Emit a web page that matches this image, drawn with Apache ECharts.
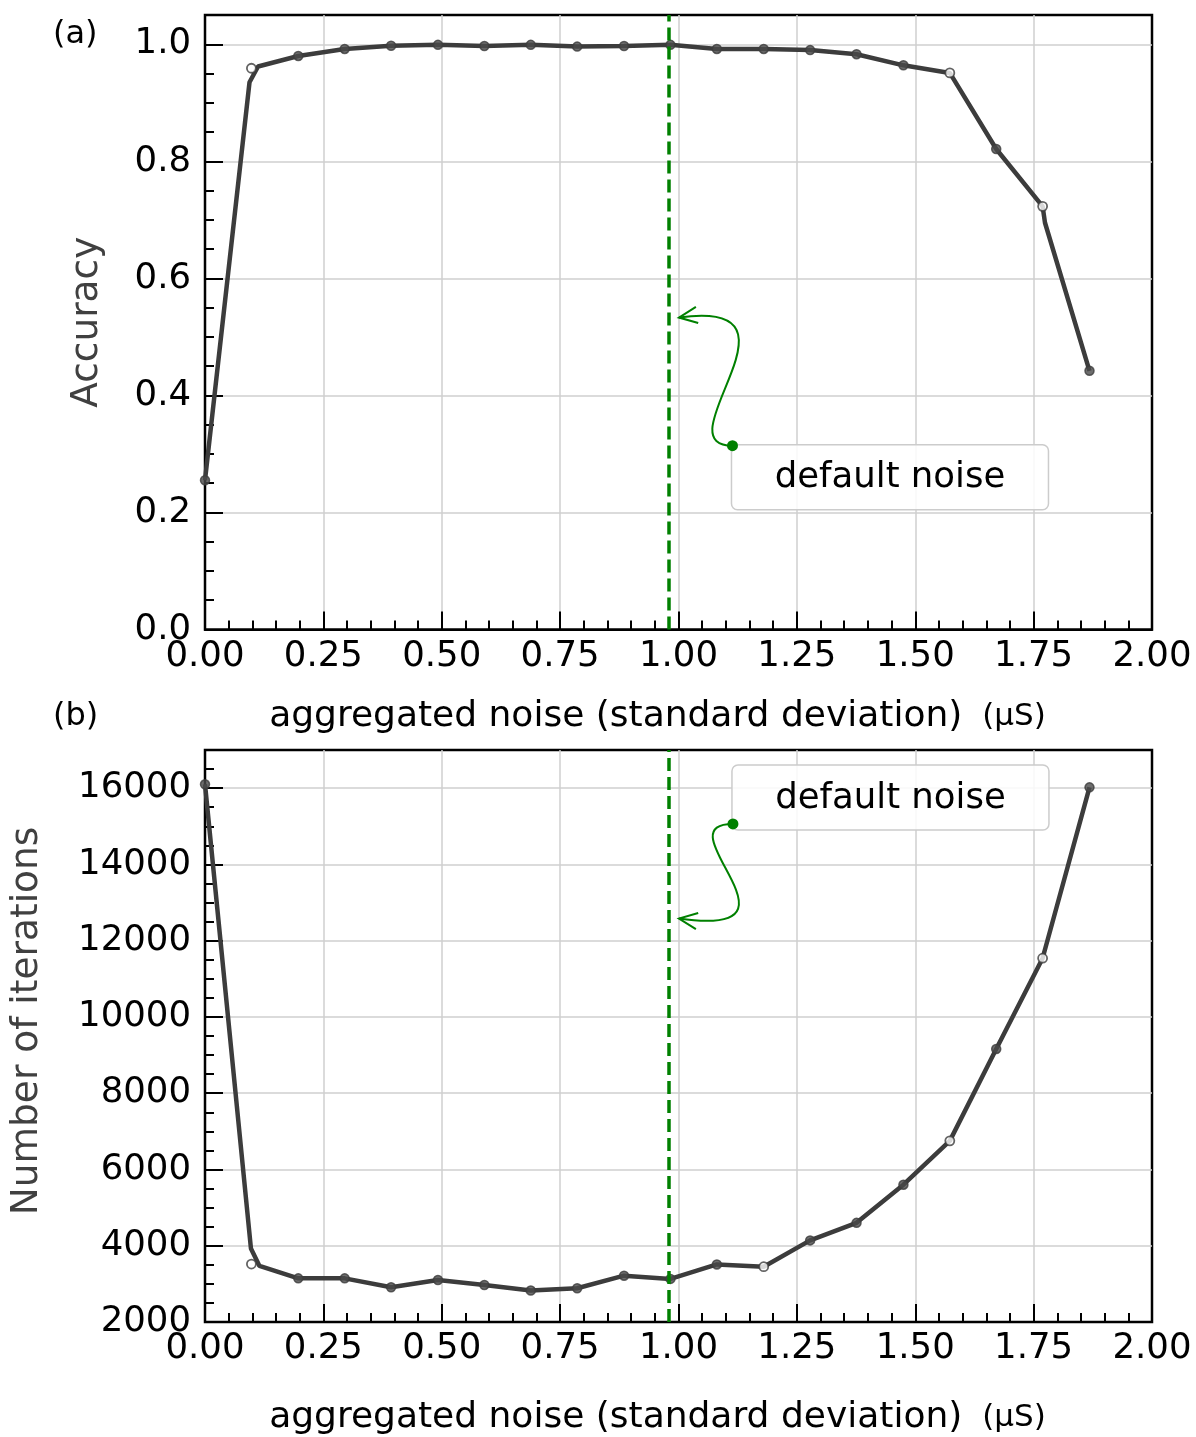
<!DOCTYPE html>
<html><head><meta charset="utf-8">
<script src="https://cdn.jsdelivr.net/npm/echarts@6/dist/echarts.min.js"></script>
<style>html,body{margin:0;padding:0;background:#fff}#main{width:1196px;height:1437px}</style>
</head><body><div id="main"></div>
<script>
// ---------------- data ----------------
const noise = [0, 0.098, 0.197, 0.295, 0.393, 0.492, 0.590, 0.688, 0.786, 0.885, 0.983, 1.081, 1.180, 1.278, 1.376, 1.475, 1.573, 1.671, 1.769, 1.868];
const accuracy = [0.255, 0.959, 0.980, 0.992, 0.9975, 0.999, 0.997, 0.999, 0.996, 0.997, 0.999, 0.992, 0.992, 0.990, 0.983, 0.964, 0.951, 0.821, 0.723, 0.442];
const iterations = [16100, 3520, 3145, 3145, 2910, 3100, 2970, 2825, 2885, 3215, 3130, 3510, 3450, 4140, 4600, 5600, 6750, 9160, 11540, 16020];
const openAccuracy = [1, 16, 18];
const openIterations = [1, 12, 16, 18];
// line vertices (the drawn curve has small kinks next to some markers)
const accuracyLineX = [0, 0.094, 0.112, 0.197, 0.295, 0.393, 0.492, 0.590, 0.688, 0.786, 0.885, 0.983, 1.081, 1.180, 1.278, 1.376, 1.475, 1.573, 1.671, 1.769, 1.774, 1.868];
const accuracyLineY = [0.255, 0.935, 0.962, 0.980, 0.992, 0.9975, 0.999, 0.997, 0.999, 0.996, 0.997, 0.999, 0.992, 0.992, 0.990, 0.983, 0.964, 0.951, 0.821, 0.723, 0.695, 0.442];
const iterationsLineX = [0, 0.097, 0.115, 0.197, 0.295, 0.393, 0.492, 0.590, 0.688, 0.786, 0.885, 0.983, 1.081, 1.180, 1.278, 1.376, 1.475, 1.573, 1.671, 1.769, 1.776, 1.868];
const iterationsLineY = [16100, 3930, 3470, 3145, 3145, 2910, 3100, 2970, 2825, 2885, 3215, 3130, 3510, 3450, 4140, 4600, 5600, 6750, 9160, 11540, 11860, 16020];
const defaultNoise = 0.983;
// annotation anchors (data coords): [dot, arrow tip]
const annotTop = [[1.114, 0.314], [1.001, 0.533]];
const annotBottom = [[1.115, 15060], [1.001, 12580]];
const xTicks = {min: 0, max: 2, step: 0.25};
const accTicks = {min: 0, max: 1.05, step: 0.2, minor: 0.05};
const iterTicks = {min: 2000, max: 17000, step: 2000, minor: 500};

// ---------------- chart ----------------
const font = 'DejaVu Sans';
const chart = echarts.init(document.getElementById('main'));
const black = '#000';
const grey = '#cfcfcf';
const lineColor = '#3c3c3c';

function xAxisCfg(gi, gap) {
  return {
    gridIndex: gi, type: 'value', min: xTicks.min, max: xTicks.max, interval: xTicks.step,
    axisLine: {show: true, onZero: false, lineStyle: {color: black, width: 2}},
    axisTick: {show: true, inside: true, length: 18, lineStyle: {color: black, width: 2}},
    minorTick: {show: true, splitNumber: 5, length: 9, lineStyle: {color: black, width: 2}},
    splitLine: {show: true, showMinLine: false, showMaxLine: false, lineStyle: {color: grey, width: 1.5}},
    axisLabel: {margin: 9, fontSize: 35.5, fontFamily: font, color: black, formatter: v => v.toFixed(2)},
    name: '{m|aggregated noise (standard deviation)}{u|(μS)}',
    nameLocation: 'middle', nameGap: gap,
    nameTextStyle: {padding: [0, 42, 0, 0], rich: {
      m: {fontSize: 36, fontFamily: font, color: black},
      u: {fontSize: 31, fontFamily: font, color: black, padding: [0, 0, 0, 20]}
    }}
  };
}
function yMain(gi, t, name, gap, fmt, pad) {
  return {
    gridIndex: gi, type: 'value', min: t.min, max: t.max, interval: t.step, position: 'left',
    axisLine: {show: true, onZero: false, lineStyle: {color: black, width: 2}},
    axisTick: {show: true, inside: true, length: 18, lineStyle: {color: black, width: 2}},
    splitLine: {show: true, showMinLine: false, showMaxLine: false, lineStyle: {color: grey, width: 1.5}},
    axisLabel: {margin: 14, fontSize: 35.5, fontFamily: font, color: black,
      formatter: v => (v > t.max - 1e-9) ? '' : fmt(v)},
    name: name, nameLocation: 'middle', nameGap: gap,
    nameTextStyle: {fontSize: 37.5, fontFamily: font, color: '#404040', padding: pad}
  };
}
function yMinor(gi, t) {
  return {
    gridIndex: gi, type: 'value', min: t.min, max: t.max, interval: t.minor, position: 'left', offset: 0,
    axisLine: {show: false}, axisLabel: {show: false}, splitLine: {show: false},
    axisTick: {show: true, inside: true, length: 9, lineStyle: {color: black, width: 2}}
  };
}
function pairs(xs, ys) { return xs.map((x, i) => [x, ys[i]]); }
function markers(ys, openIdx, open) {
  return noise.map((x, i) => [x, ys[i], i]).filter(d => openIdx.includes(d[2]) === open).map(d => [d[0], d[1]]);
}
function seriesFor(gi, yi, lx, ly, ys, openIdx) {
  return [
    {type: 'line', xAxisIndex: gi, yAxisIndex: yi, data: pairs(lx, ly), symbol: 'none', showSymbol: false,
      lineStyle: {color: lineColor, width: 4.5}, z: 3,
      markLine: {silent: true, symbol: ['none', 'none'], label: {show: false},
        lineStyle: {color: '#008000', type: [13, 6], width: 3.5}, data: [{xAxis: defaultNoise}]}},
    {type: 'scatter', xAxisIndex: gi, yAxisIndex: yi, data: markers(ys, openIdx, false), symbolSize: 9,
      itemStyle: {color: '#4a4a4a', borderColor: lineColor, borderWidth: 1.5}, z: 4},
    {type: 'scatter', xAxisIndex: gi, yAxisIndex: yi, data: markers(ys, openIdx, true), symbolSize: 9,
      itemStyle: {color: '#ffffff', borderColor: lineColor, borderWidth: 1.8}, z: 4}
  ];
}

chart.setOption({
  animation: false,
  backgroundColor: '#fff',
  grid: [
    {left: 205, top: 15, width: 947, height: 614.5, show: true, borderColor: black, borderWidth: 2.5, backgroundColor: 'transparent'},
    {left: 205, top: 750, width: 947, height: 574, show: true, borderColor: black, borderWidth: 2.5, backgroundColor: 'transparent'}
  ],
  xAxis: [xAxisCfg(0, 69), xAxisCfg(1, 78)],
  yAxis: [
    yMain(0, accTicks, 'Accuracy', 99, v => v.toFixed(1), [0, 0, 0, 0]),
    yMinor(0, accTicks),
    yMain(1, iterTicks, 'Number of iterations', 159, v => String(Math.round(v)), [0, 0, 0, 30]),
    yMinor(1, iterTicks)
  ],
  series: [
    ...seriesFor(0, 0, accuracyLineX, accuracyLineY, accuracy, openAccuracy),
    ...seriesFor(1, 2, iterationsLineX, iterationsLineY, iterations, openIterations)
  ]
});

function annot(gi, yi, a, dir) {
  const P0 = chart.convertToPixel({xAxisIndex: gi, yAxisIndex: yi}, a[0]);
  const P3 = chart.convertToPixel({xAxisIndex: gi, yAxisIndex: yi}, a[1]);
  const c1 = [P0[0] - 73, P0[1]];
  const c2 = [P3[0] + 140, P3[1] - 20 * dir];
  const ang = Math.atan2(P3[1] - c2[1], P3[0] - c2[0]);
  const L = 20, sp = 0.42;
  const h1 = [P3[0] - L * Math.cos(ang - sp), P3[1] - L * Math.sin(ang - sp)];
  const h2 = [P3[0] - L * Math.cos(ang + sp), P3[1] - L * Math.sin(ang + sp)];
  const boxW = 317, boxH = 65;
  const bx = P0[0] - 1;
  const by = dir > 0 ? P0[1] - 1 : P0[1] + 6 - boxH;
  return [
    {type: 'rect', shape: {x: bx, y: by, width: boxW, height: boxH, r: 6},
      style: {fill: 'rgba(255,255,255,0.85)', stroke: '#cccccc', lineWidth: 1.5}, z: 20},
    {type: 'text', x: bx + boxW / 2, y: by + boxH / 2 + 1,
      style: {text: 'default noise', fontSize: 35.5, fontFamily: font, fill: black,
        align: 'center', verticalAlign: 'middle', textAlign: 'center', textVerticalAlign: 'middle'}, z: 21},
    {type: 'bezierCurve', shape: {x1: P0[0], y1: P0[1], cpx1: c1[0], cpy1: c1[1], cpx2: c2[0], cpy2: c2[1], x2: P3[0], y2: P3[1]},
      style: {stroke: '#008000', lineWidth: 2, fill: null}, z: 22},
    {type: 'polyline', shape: {points: [h1, P3, h2]}, style: {stroke: '#008000', lineWidth: 2, fill: null}, z: 22},
    {type: 'circle', shape: {cx: P0[0], cy: P0[1], r: 5.5}, style: {fill: '#008000'}, z: 23}
  ];
}

chart.setOption({
  graphic: [
    ...annot(0, 0, annotTop, 1),
    ...annot(1, 2, annotBottom, -1),
    {type: 'text', left: 53, top: 19, style: {text: '(a)', fontSize: 32, fontFamily: font, fill: black}},
    {type: 'text', left: 53, top: 701, style: {text: '(b)', fontSize: 32, fontFamily: font, fill: black}}
  ]
});
</script>
</body></html>
